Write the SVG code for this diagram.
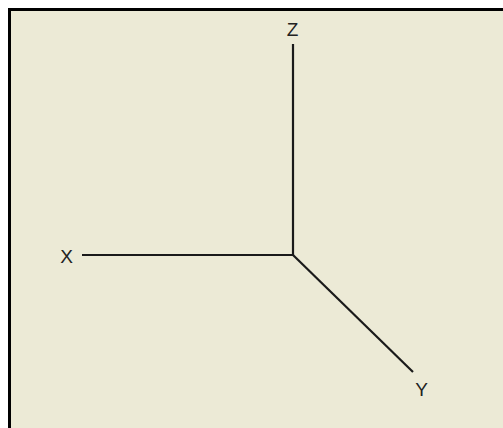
<svg xmlns="http://www.w3.org/2000/svg" width="503" height="428" viewBox="0 0 503 428">
<style>
.axis{stroke:#1a1a1a;stroke-width:2.2;fill:none}
.lbl{font-family:"Liberation Sans",Arial,sans-serif;font-size:19px;fill:#222}
</style>
<rect x="0" y="0" width="503" height="428" fill="#ffffff"/>
<rect x="9.5" y="9.5" width="500" height="425" fill="#ECEAD6" stroke="#000" stroke-width="3"/>
<g id="connectors">
<line class="axis" x1="293" y1="44" x2="293" y2="255"/>
<line class="axis" x1="82" y1="255" x2="293" y2="255"/>
<line class="axis" x1="293" y1="255" x2="413" y2="372"/>
</g>
<g id="z"><text class="lbl" x="292.5" y="36" text-anchor="middle">Z</text></g>
<g id="x"><text class="lbl" x="66.5" y="263" text-anchor="middle">X</text></g>
<g id="y"><text class="lbl" x="421.5" y="396" text-anchor="middle">Y</text></g>
</svg>
